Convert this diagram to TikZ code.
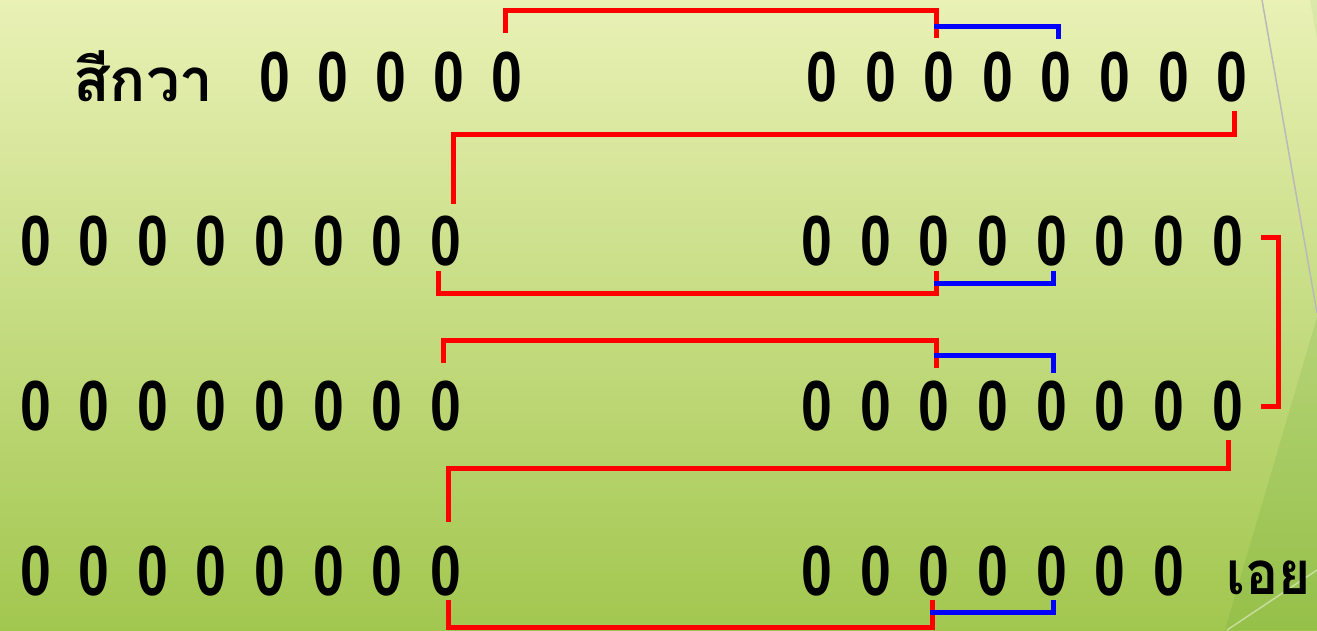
\documentclass[tikz,border=0pt]{standalone}
\usepackage{fontspec}
\newfontfamily\zerofont{Liberation Sans}
\newfontfamily\thaifont[Script=Thai]{Loma}
\usetikzlibrary{calc}
\definecolor{bgtop}{HTML}{E9F1B5}
\definecolor{bgbot}{HTML}{A2C74F}
\definecolor{rline}{HTML}{FF0000}
\definecolor{bline}{HTML}{0000FF}
\tikzset{
  zero/.style={inner sep=0pt, anchor=base, font=\zerofont\bfseries\fontsize{71}{71}\selectfont},
  thai/.style={inner sep=0pt, anchor=base west, font=\thaifont\bfseries\fontsize{60}{60}\selectfont},
  rl/.style={draw=rline, line width=5pt},
  bl/.style={draw=bline, line width=5pt},
}
\newcommand{\zz}{\scalebox{0.78}[1]{0}}
\begin{document}
\begin{tikzpicture}[x=1pt,y=-1pt]
\useasboundingbox (0,0) rectangle (1317,630);
\shade[top color=bgtop, bottom color=bgbot] (0,0) rectangle (1317,630);
% decorative right side
\fill[green!45!black, opacity=0.08] (1317,317) -- (1225,630) -- (1317,630) -- cycle;
\fill[green!45!black, opacity=0.06] (1310,0) -- (1317,0) -- (1317,40) -- cycle;
\draw[gray!55, line width=1.5pt] (1262,0) -- (1317,313);
\draw[white, opacity=0.45, line width=1.5pt] (1227,630) -- (1317,570);
% texts
\node[thai] (t1) at (73,101) {สีกวา};
\node[thai] (t2) at (1226,594) {\scalebox{0.92}[1]{เอย}};
% row 1
\foreach \i in {1,...,5} \node[zero] (r1l\i) at ({275+58*(\i-1)},101) {\zz};
\foreach \i in {1,...,8} \node[zero] (r1r\i) at ({822+58.57*(\i-1)},101) {\zz};
% rows 2-4
\foreach \r/\yy in {2/265,3/430,4/595}{
  \foreach \i in {1,...,8} \node[zero] (r\r l\i) at ({35.5+58.6*(\i-1)},\yy) {\zz};
}
\foreach \r/\yy in {2/265,3/430}{
  \foreach \i in {1,...,8} \node[zero] (r\r r\i) at ({817+58.64*(\i-1)},\yy) {\zz};
}
\foreach \i in {1,...,7} \node[zero] (r4r\i) at ({817+58.64*(\i-1)},595) {\zz};
% row 1 brackets
\draw[rl] ([shift={(-2,-68)}]r1l5.base) -- ++(0,-23) -| ([shift={(-2.5,-63)}]r1r3.base);
\draw[bl] ([shift={(-5,-74.5)}]r1r3.base) -| ([shift={(2.5,-62.5)}]r1r5.base);
% row 1 -> row 2
\draw[rl] ([shift={(2.5,10)}]r1r8.base) -- ++(0,23.5) -| ([shift={(7.3,-61.3)}]r2l8.base);
% row 2 bottom
\draw[rl] ([shift={(-7.2,6)}]r2l8.base) -- ++(0,22.5) -| ([shift={(2.5,6)}]r2r3.base);
\draw[bl] ([shift={(0,18)}]r2r3.base) -| ([shift={(1.5,6)}]r2r5.base);
% row 2 -> row 3
\draw[rl] ([shift={(34,-27.5)}]r2r8.base) -- ++(17,0) |- ([shift={(33.5,-24)}]r3r8.base);
% row 3 top
\draw[rl] ([shift={(-2.2,-67.3)}]r3l8.base) -- ++(0,-22.7) -| ([shift={(2.5,-62.3)}]r3r3.base);
\draw[bl] ([shift={(0,-74.5)}]r3r3.base) -| ([shift={(1.5,-57.3)}]r3r5.base);
% row 3 -> row 4
\draw[rl] ([shift={(1.5,10)}]r3r8.base) -- ++(0,28.5) -| ([shift={(2.3,-73)}]r4l8.base);
% row 4 bottom
\draw[rl] ([shift={(2.3,5)}]r4l8.base) -- ++(0,27.5) -| ([shift={(-2,5)}]r4r3.base);
\draw[bl] ([shift={(-4.5,17)}]r4r3.base) -| ([shift={(1.5,5)}]r4r5.base);
\end{tikzpicture}
\end{document}
